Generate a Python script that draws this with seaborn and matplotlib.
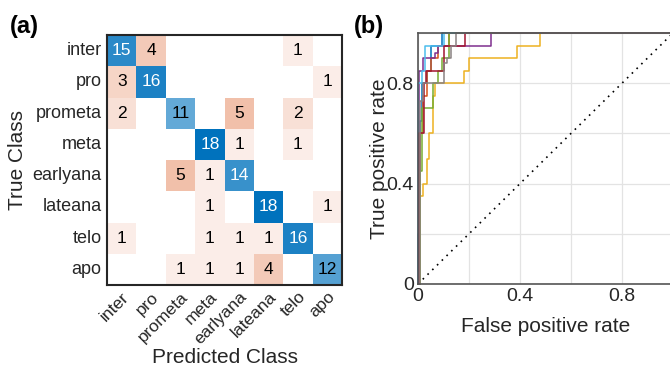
import numpy as np
import pandas as pd
import matplotlib
matplotlib.use("Agg")
import matplotlib.pyplot as plt
from matplotlib.colors import LinearSegmentedColormap, PowerNorm, Normalize
import seaborn as sns

# ---------------- data ----------------
classes = ["inter", "pro", "prometa", "meta", "earlyana", "lateana", "telo", "apo"]
row_inter    = [15, 4, 0, 0, 0, 0, 1, 0]
row_pro      = [3, 16, 0, 0, 0, 0, 0, 1]
row_prometa  = [2, 0, 11, 0, 5, 0, 2, 0]
row_meta     = [0, 0, 0, 18, 1, 0, 1, 0]
row_earlyana = [0, 0, 5, 1, 14, 0, 0, 0]
row_lateana  = [0, 0, 0, 1, 0, 18, 0, 1]
row_telo     = [1, 0, 0, 1, 1, 1, 16, 0]
row_apo      = [0, 0, 1, 1, 1, 4, 0, 12]

roc_ticks = [0, 0.2, 0.4, 0.6, 0.8, 1.0]
roc_ticklabels = ["0", "", "0.4", "", "0.8", ""]

# ROC step curves (fpr, tpr) corner points per class
roc_blue_fpr = [0, 0, 0.007, 0.014, 0.036, 0.05, 0.093, 1.0]
roc_blue_tpr = [0, 0.2, 0.65, 0.8, 0.85, 0.95, 1.0, 1.0]
roc_orange_fpr = [0, 0.007, 0.021, 0.036, 0.05, 0.08, 0.12, 1.0]
roc_orange_tpr = [0, 0.6, 0.75, 0.85, 0.9, 0.95, 1.0, 1.0]
roc_yellow_fpr = [0, 0.007, 0.021, 0.037, 0.044, 0.058, 0.067, 0.18, 0.2, 0.39, 0.48, 1.0]
roc_yellow_tpr = [0, 0.35, 0.4, 0.5, 0.6, 0.75, 0.8, 0.85, 0.9, 0.95, 1.0, 1.0]
roc_purple_fpr = [0, 0.004, 0.021, 0.065, 0.08, 0.285, 1.0]
roc_purple_tpr = [0, 0.85, 0.9, 0.92, 0.95, 1.0, 1.0]
roc_green_fpr = [0, 0.007, 0.014, 0.057, 0.08, 0.093, 0.12, 1.0]
roc_green_tpr = [0, 0.45, 0.7, 0.8, 0.85, 0.9, 1.0, 1.0]
roc_ltblue_fpr = [0, 0, 0.014, 0.029, 0.1, 1.0]
roc_ltblue_tpr = [0, 0.8, 0.85, 0.95, 1.0, 1.0]
roc_red_fpr = [0, 0.004, 0.022, 0.03, 0.1, 0.186, 1.0]
roc_red_tpr = [0, 0.6, 0.8, 0.85, 0.95, 1.0, 1.0]
roc_gray_fpr = [0, 0.007, 0.021, 0.1, 0.114, 0.128, 0.15, 1.0]
roc_gray_tpr = [0, 0.73, 0.8, 0.88, 0.9, 0.95, 1.0, 1.0]

# ---------------- style ----------------
sns.set_style("white")
plt.rcParams["font.family"] = ["Liberation Sans", "DejaVu Sans"]
TXT = "#262626"

fig = plt.figure(figsize=(6.7, 3.71), dpi=100)
ax1 = fig.add_axes([107 / 670, 1 - 285 / 371, 235 / 670, 250 / 371])
ax2 = fig.add_axes([418 / 670, 1 - 284 / 371, 255 / 670, 251 / 371])

# ---------------- confusion matrix ----------------
cm = np.array([row_inter, row_pro, row_prometa, row_meta,
               row_earlyana, row_lateana, row_telo, row_apo])
df = pd.DataFrame(cm, index=classes, columns=classes)
n = len(classes)
eye = np.eye(n, dtype=bool)
vmax = cm.max()

blue_cmap = LinearSegmentedColormap.from_list("bl", ["#ffffff", "#0072BD"])
red_cmap = LinearSegmentedColormap.from_list("rd", ["#ffffff", "#D95319"])

sns.heatmap(df, mask=~eye, cmap=blue_cmap, norm=Normalize(0, vmax),
            cbar=False, ax=ax1, linewidths=0)
sns.heatmap(df, mask=eye | (cm == 0), cmap=red_cmap,
            norm=PowerNorm(gamma=0.78, vmin=0, vmax=vmax),
            cbar=False, ax=ax1, linewidths=0)

for i in range(n):
    for j in range(n):
        v = cm[i, j]
        if v == 0:
            continue
        col = "white" if (i == j and v >= 13) else "black"
        ax1.text(j + 0.5, i + 0.5, str(v), ha="center", va="center",
                 fontsize=12.5, color=col)

ax1.set_xticks(np.arange(n) + 0.5)
ax1.set_yticks(np.arange(n) + 0.5)
ax1.set_xticklabels(classes, rotation=45, ha="right", rotation_mode="anchor",
                    fontsize=12.5, color=TXT)
ax1.set_yticklabels(classes, rotation=0, fontsize=13, color=TXT)
ax1.tick_params(axis="x", length=0, pad=3)
ax1.tick_params(axis="y", length=0, pad=4)
ax1.set_xlabel("Predicted Class", fontsize=15, color=TXT, va="center")
ax1.xaxis.set_label_coords(0.5, -0.29)
ax1.set_ylabel("True Class", fontsize=15, color=TXT, labelpad=4)
for s in ax1.spines.values():
    s.set_visible(True)
    s.set_color("#262626")
    s.set_linewidth(1.5)

# ---------------- ROC ----------------
curves = [
    (roc_blue_fpr, roc_blue_tpr, "#0072BD"),
    (roc_orange_fpr, roc_orange_tpr, "#D95319"),
    (roc_yellow_fpr, roc_yellow_tpr, "#EDB120"),
    (roc_purple_fpr, roc_purple_tpr, "#7E2F8E"),
    (roc_green_fpr, roc_green_tpr, "#77AC30"),
    (roc_ltblue_fpr, roc_ltblue_tpr, "#4DBEEE"),
    (roc_red_fpr, roc_red_tpr, "#A2142F"),
    (roc_gray_fpr, roc_gray_tpr, "#8a8282"),
]
ax2.set_xlim(0, 1)
ax2.set_ylim(0, 1)
ax2.set_xticks(roc_ticks)
ax2.set_yticks(roc_ticks)
ax2.set_xticklabels(roc_ticklabels, fontsize=14, color=TXT)
ax2.set_yticklabels(roc_ticklabels, fontsize=14, color=TXT)
ax2.grid(True, color="#e3e3e3", linewidth=0.9)
ax2.set_axisbelow(True)
ax2.tick_params(axis="both", direction="in", length=3.5, width=0.8,
                colors="#262626", pad=3, labelcolor=TXT)

sns.lineplot(x=[0, 1], y=[0, 1], ax=ax2, color="black", linewidth=1.2,
             linestyle=(0, (1, 3)), sort=False, estimator=None)
for fx, ty, c in curves:
    sns.lineplot(x=fx, y=ty, ax=ax2, color=c, linewidth=1.1, sort=False,
                 estimator=None, drawstyle="steps-post", clip_on=False)

ax2.set_xlabel("False positive rate", fontsize=15, color=TXT, va="center")
ax2.xaxis.set_label_coords(0.5, -0.171)
ax2.set_ylabel("True positive rate", fontsize=15, color=TXT, va="center")
ax2.yaxis.set_label_coords(-0.15, 0.5)
for s in ax2.spines.values():
    s.set_visible(True)
    s.set_color("#555555")
    s.set_linewidth(1.2)

fig.text(24 / 670, 1 - 27 / 371, "(a)", fontsize=17, fontweight="bold",
         ha="center", va="center", color="black")
fig.text(369 / 670, 1 - 27 / 371, "(b)", fontsize=17, fontweight="bold",
         ha="center", va="center", color="black")

fig.savefig("out.png", dpi=100)
